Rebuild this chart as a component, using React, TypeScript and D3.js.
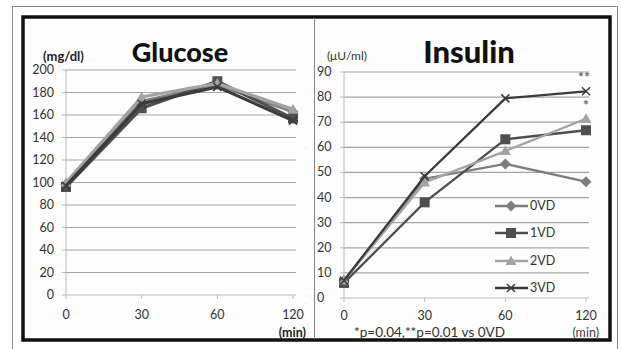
import React from "react";
import * as d3 from "d3";

const timeLabels = ["0", "30", "60", "120"];
const seriesNames = ["0VD", "1VD", "2VD", "3VD"];
const glucose0VD = [98, 172, 187, 163];
const glucose1VD = [96, 166, 190, 157];
const glucose2VD = [100, 176, 188, 165];
const glucose3VD = [97, 170, 185, 155];
const insulin0VD = [7, 47.5, 53.4, 46.3];
const insulin1VD = [6, 38.1, 63.2, 66.8];
const insulin2VD = [7, 46, 58.5, 71.4];
const insulin3VD = [7, 48.5, 79.5, 82.3];
const glucoseTicks = [0, 20, 40, 60, 80, 100, 120, 140, 160, 180, 200];
const insulinTicks = [0, 10, 20, 30, 40, 50, 60, 70, 80, 90];

const colors = ["#7d7d7d", "#4f4f4f", "#a3a3a3", "#3c3c3c"];
const markers = ["diamond", "square", "triangle", "cross"];
const FONT = "Lato, 'Open Sans', sans-serif";

function Marker({ type, x, y, color }: { type: string; x: number; y: number; color: string }) {
  if (type === "square") return <rect x={x - 5} y={y - 5} width={10} height={10} fill={color} />;
  if (type === "diamond") return <path d={`M${x},${y - 5.5}L${x + 5.5},${y}L${x},${y + 5.5}L${x - 5.5},${y}Z`} fill={color} />;
  if (type === "triangle") return <path d={`M${x},${y - 5.5}L${x + 5.5},${y + 4}L${x - 5.5},${y + 4}Z`} fill={color} />;
  return (
    <path d={`M${x - 4},${y - 4}L${x + 4},${y + 4}M${x - 4},${y + 4}L${x + 4},${y - 4}`} stroke={color} strokeWidth={1.5} />
  );
}

function Panel({
  data, ticks, yMax, x0, x1, yTop, yBottom, labelX, anchor, lw, xLabelDy,
}: {
  data: number[][]; ticks: number[]; yMax: number; x0: number; x1: number; yTop: number; yBottom: number;
  labelX: number; anchor: string; lw: number; xLabelDy: number;
}) {
  const x = d3.scalePoint<string>().domain(timeLabels).range([x0, x1]);
  const y = d3.scaleLinear().domain([0, yMax]).range([yBottom, yTop]);
  const line = d3.line<number>().x((_, i) => x(timeLabels[i])!).y((d) => y(d));
  return (
    <g>
      {ticks.map((t) => (
        <g key={t}>
          {t > 0 && <line x1={x0} x2={x1 + 3} y1={y(t)} y2={y(t)} stroke="#a5a5a5" strokeWidth={1.2} />}
          <line x1={x0 - 4} x2={x0} y1={y(t)} y2={y(t)} stroke="#bbb" />
          <text x={labelX} y={y(t) + 4} fontSize={12.5} fill="#333" textAnchor={anchor} fontFamily={FONT}>{t}</text>
        </g>
      ))}
      <line x1={x0} x2={x0} y1={yTop} y2={yBottom} stroke="#bbb" />
      <line x1={x0} x2={x1 + 3} y1={yBottom} y2={yBottom} stroke="#bbb" />
      {timeLabels.map((c) => (
        <g key={c}>
          <line x1={x(c)!} x2={x(c)!} y1={yBottom} y2={yBottom + 4} stroke="#bbb" />
          <text x={x(c)!} y={yBottom + xLabelDy} fontSize={12.5} fill="#333" textAnchor="middle" fontFamily={FONT}>{c}</text>
        </g>
      ))}
      {data.map((s, i) => (
        <g key={i}>
          <path d={line(s) || ""} fill="none" stroke={colors[i]} strokeWidth={lw} />
          {s.map((v, j) => (
            <Marker key={j} type={markers[i]} x={x(timeLabels[j])!} y={y(v)} color={colors[i]} />
          ))}
        </g>
      ))}
    </g>
  );
}

export default function App() {
  const legendY = [206, 233, 261, 288];
  return (
    <svg width={622} height={349} style={{ position: "absolute", left: 0, top: 0 }}>
      <rect x={0} y={0} width={622} height={349} fill="#fff" />
      <path d="M12.5,349V6.5H617.5V349" fill="none" stroke="#888" strokeWidth={1} />
      <rect x={23} y={17} width={587} height={323} fill="#fdfdfd" stroke="#111" strokeWidth={3.5} />
      <line x1={314.5} x2={314.5} y1={18} y2={339} stroke="#888" strokeWidth={1} />

      <Panel data={[glucose0VD, glucose1VD, glucose2VD, glucose3VD]} ticks={glucoseTicks} yMax={200}
        x0={66} x1={293} yTop={70} yBottom={295} labelX={54} anchor="end" lw={3.2} xLabelDy={24} />
      <Panel data={[insulin0VD, insulin1VD, insulin2VD, insulin3VD]} ticks={insulinTicks} yMax={90}
        x0={344} x1={586} yTop={72} yBottom={298} labelX={317} anchor="start" lw={2.3} xLabelDy={22} />

      <text x={180} y={62} fontSize={27} fontWeight="900" textAnchor="middle" fontFamily={FONT} fill="#111">Glucose</text>
      <text x={469} y={63} fontSize={31} fontWeight="900" textAnchor="middle" fontFamily={FONT} fill="#111">Insulin</text>
      <text x={43} y={61} fontSize={13} fontWeight="bold" fontFamily={FONT} fill="#222">(mg/dl)</text>
      <text x={327} y={60} fontSize={12} fontFamily={FONT} fill="#333">(μU/ml)</text>
      <text x={306} y={337} fontSize={12.5} fontWeight="bold" textAnchor="end" fontFamily={FONT} fill="#222">(min)</text>
      <text x={599} y={337} fontSize={12.5} textAnchor="end" fontFamily={FONT} fill="#444">(min)</text>
      <text x={354} y={337} fontSize={13.5} fontFamily={FONT} fill="#333">*p=0.04,**p=0.01 vs 0VD</text>
      <text x={584} y={82} fontSize={14} fontWeight="bold" textAnchor="middle" fontFamily={FONT} fill="#666">**</text>
      <text x={586} y={110} fontSize={14} fontWeight="bold" textAnchor="middle" fontFamily={FONT} fill="#666">*</text>

      {seriesNames.map((n, i) => (
        <g key={n}>
          <line x1={495} x2={528} y1={legendY[i]} y2={legendY[i]} stroke={colors[i]} strokeWidth={2.3} />
          <Marker type={markers[i]} x={511} y={legendY[i]} color={colors[i]} />
          <text x={530} y={legendY[i] + 4} fontSize={12.5} fontFamily={FONT} fill="#333">{n}</text>
        </g>
      ))}
    </svg>
  );
}
